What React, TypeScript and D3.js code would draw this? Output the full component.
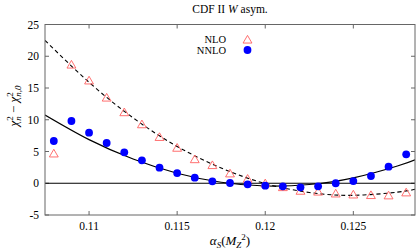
import React from "react";
import * as d3 from "d3";

const alphaS = [0.108, 0.109, 0.11, 0.111, 0.112, 0.113, 0.114, 0.115, 0.116, 0.117, 0.118, 0.119, 0.12, 0.121, 0.122, 0.123, 0.124, 0.125, 0.126, 0.127, 0.128];
const nloValues = [4.7, 18.7, 16.2, 13.5, 11.2, 9.3, 7.3, 5.6, 3.8, 2.87, 1.56, 0.72, 0.0, -0.6, -1.17, -1.3, -1.6, -1.76, -1.85, -1.9, -1.43];
const nnloValues = [6.65, 9.8, 7.96, 6.34, 4.87, 3.61, 2.45, 1.61, 0.88, 0.3, 0.04, -0.17, -0.38, -0.49, -0.64, -0.49, 0.0, 0.35, 1.14, 2.61, 4.55];

const fitX = [0.1075, 0.11, 0.1125, 0.115, 0.1175, 0.12, 0.1225, 0.125, 0.1275, 0.1285];
const nloFit = [22.5, 15.9, 10.3, 5.8, 2.4, -0.05, -1.45, -1.9, -1.4, -0.95];
const nnloFit = [10.75, 6.87, 3.82, 1.58, 0.16, -0.43, -0.2, 0.84, 2.71, 3.69];

const xTicks = [0.11, 0.115, 0.12, 0.125];
const xTickLabels = ["0.11", "0.115", "0.12", "0.125"];
const yTicks = [-5, 0, 5, 10, 15, 20, 25];

const W = 417, H = 251;
const L = 45, R = 415, T = 24.5, B = 215;
const fs: React.CSSProperties = { fontFamily: "'Liberation Serif', 'Times New Roman', Times, serif" };

export default function App() {
  const x = d3.scaleLinear().domain([0.1075, 0.1285]).range([L, R]);
  const y = d3.scaleLinear().domain([-5, 25]).range([B, T]);
  const line = d3.line<number>().x((_, i) => x(fitX[i])).y((d) => y(d)).curve(d3.curveNatural);
  const tri = d3.symbol().type(d3.symbolTriangle).size(34)();
  const grey = "#666";
  return (
    <svg width={W} height={H} style={{ position: "absolute", left: 0, top: 0 }}>
      <defs>
        <clipPath id="plot"><rect x={L} y={T} width={R - L} height={B - T} /></clipPath>
      </defs>
      <rect width={W} height={H} fill="white" />
      <text style={fs} x={(L + R) / 2} y={13} textAnchor="middle" fontSize={11.5}>
        CDF II <tspan fontStyle="italic">W</tspan> asym.
      </text>
      {xTicks.map((t, i) => (
        <g key={"x" + i}>
          <line x1={x(t)} x2={x(t)} y1={B} y2={B - 4} stroke={grey} />
          <line x1={x(t)} x2={x(t)} y1={T} y2={T + 4} stroke={grey} />
          <text style={fs} x={x(t)} y={B + 15} textAnchor="middle" fontSize={11.5}>{xTickLabels[i]}</text>
        </g>
      ))}
      {yTicks.map((t, i) => (
        <g key={"y" + i}>
          <line x1={L} x2={L + 4} y1={y(t)} y2={y(t)} stroke={grey} />
          <line x1={R} x2={R - 4} y1={y(t)} y2={y(t)} stroke={grey} />
          <text style={fs} x={L - 6} y={y(t) + 4} textAnchor="end" fontSize={11.5}>{t}</text>
        </g>
      ))}
      <line x1={L} x2={R} y1={y(0)} y2={y(0)} stroke="black" strokeWidth={1.1} />
      <g clipPath="url(#plot)">
        <path d={line(nloFit) || ""} fill="none" stroke="black" strokeWidth={1.1} strokeDasharray="4,3" />
        <path d={line(nnloFit) || ""} fill="none" stroke="black" strokeWidth={1.2} />
        {alphaS.map((a, i) => (
          <path key={"t" + i} d={tri || ""} transform={`translate(${x(a)},${y(nloValues[i]) + 1})`} fill="none" stroke="#ff6060" strokeWidth={0.9} />
        ))}
        {alphaS.map((a, i) => (
          <circle key={"c" + i} cx={x(a)} cy={y(nnloValues[i])} r={3.9} fill="#0000ff" />
        ))}
      </g>
      <rect x={L} y={T} width={R - L} height={B - T} fill="none" stroke={grey} strokeWidth={1} />
      <text style={fs} x={226} y={43} textAnchor="end" fontSize={10.5}>NLO</text>
      <text style={fs} x={226} y={54} textAnchor="end" fontSize={10.5}>NNLO</text>
      <path d={tri || ""} transform="translate(247.5,40.5)" fill="none" stroke="#ff6060" strokeWidth={0.9} />
      <circle cx={247.5} cy={50} r={3.9} fill="#0000ff" />
      <text style={fs} x={(L + R) / 2} y={245} textAnchor="middle" fontSize={13}>
        <tspan fontStyle="italic">α</tspan><tspan fontStyle="italic" fontSize={9} dy={2.5}>S</tspan><tspan dy={-2.5}>(</tspan><tspan fontStyle="italic">M</tspan><tspan fontStyle="italic" fontSize={9} dy={3}>Z</tspan><tspan fontSize={9} dy={-8}>2</tspan><tspan dy={5}>)</tspan>
      </text>
      <text style={fs} transform={`translate(18,106) rotate(-90)`} textAnchor="middle" fontSize={13}>
        <tspan fontStyle="italic">χ</tspan><tspan fontSize={9} dy={-5}>2</tspan><tspan fontStyle="italic" fontSize={9} dx={-4.5} dy={8}>n</tspan><tspan dy={-3}> − </tspan><tspan fontStyle="italic">χ</tspan><tspan fontSize={9} dy={-5}>2</tspan><tspan fontStyle="italic" fontSize={9} dx={-4.5} dy={8}>n,0</tspan>
      </text>
    </svg>
  );
}
